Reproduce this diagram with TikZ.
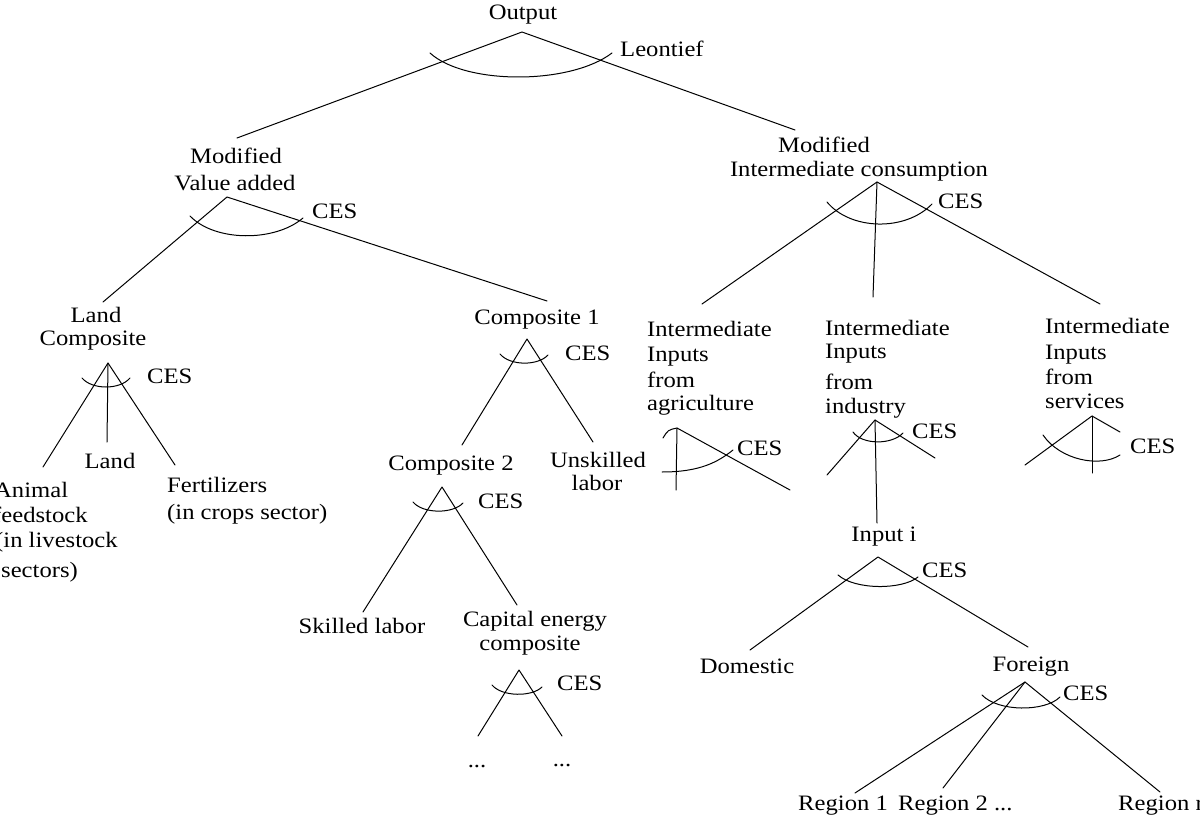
\documentclass[tikz,border=0pt]{standalone}
\usepackage{fontspec}
\setmainfont{Liberation Serif}[FakeStretch=1.12]
\begin{document}
\begin{tikzpicture}[x=1pt,y=-1pt,
  lbl/.style={inner sep=0pt,font=\fontsize{22}{25}\selectfont},
  lb/.style={lbl,anchor=base},
  lw/.style={lbl,anchor=base west},
  ln/.style={line width=1pt,line cap=round,line join=round}]
\useasboundingbox (0,0) rectangle (1200,816);
\fill[white] (0,0) rectangle (1200,816);

% ---------- Output ----------
\node[lb] (out) at (523,20) {Output};
\node[lw] (leon) at (620,57) {Leontief};
\coordinate (oA) at (522,32);
\coordinate (oL) at (237,138);
\coordinate (oR) at (795,130);
\draw[ln] (oL) -- (oA) -- (oR);
\coordinate (oa1) at (430,53);
\coordinate (oa2) at (612,53);
\draw[ln] (oa1) .. controls (465,85) and (570,85) .. (oa2);

% ---------- Modified Value added ----------
\node[lb] (vam) at (236,163) {Modified};
\node[lb] (vav) at (235,190) {Value added};
\node[lw] (vces) at (312,218) {CES};
\coordinate (vA) at (227,197);
\coordinate (vL) at (103,302);
\coordinate (vR) at (547,301);
\draw[ln] (vL) -- (vA) -- (vR);
\coordinate (va1) at (190,216);
\coordinate (va2) at (303,218);
\draw[ln] (va1) .. controls (215,242) and (275,242) .. (va2);

% ---------- Modified Intermediate consumption ----------
\node[lb] (icm) at (824,152) {Modified};
\node[lb] (ici) at (859,176) {Intermediate consumption};
\node[lw] (icces) at (938,208) {CES};
\coordinate (iA) at (877,182);
\coordinate (iL) at (702,304);
\coordinate (iV) at (873,297);
\coordinate (iR) at (1100,304);
\draw[ln] (iL) -- (iA) -- (iR);
\draw[ln] (iA) -- (iV);
\coordinate (ia1) at (827,202);
\coordinate (ia2) at (932,204);
\draw[ln] (ia1) .. controls (850,230) and (905,232) .. (ia2);

% ---------- Land Composite ----------
\node[lb] (lc1) at (96,322) {Land};
\node[lb] (lc2) at (93,345) {Composite};
\node[lw] (lces) at (147,383) {CES};
\coordinate (lA) at (108,363);
\coordinate (lL) at (43,467);
\coordinate (lV) at (107,442);
\coordinate (lR) at (175,465);
\draw[ln] (lL) -- (lA) -- (lR);
\draw[ln] (lA) -- (lV);
\coordinate (la1) at (82,378);
\coordinate (la2) at (130,378);
\draw[ln] (la1) .. controls (92,390) and (120,390) .. (la2);
\node[lb] (land) at (110,468) {Land};
\node[lw] (an1) at (-6,497) {Animal};
\node[lw] (an2) at (-7,522) {feedstock};
\node[lw] (an3) at (-5,547) {(in livestock};
\node[lw] (an4) at (1,577) {sectors)};
\node[lw] (fe1) at (167,492) {Fertilizers};
\node[lw] (fe2) at (167,519) {(in crops sector)};

% ---------- Composite 1 ----------
\node[lb] (c1) at (537,324) {Composite 1};
\node[lw] (c1ces) at (565,360) {CES};
\coordinate (c1A) at (527,339);
\coordinate (c1L) at (462,445);
\coordinate (c1R) at (593,442);
\draw[ln] (c1L) -- (c1A) -- (c1R);
\coordinate (c1a1) at (500,354);
\coordinate (c1a2) at (548,355);
\draw[ln] (c1a1) .. controls (510,366) and (538,366) .. (c1a2);
\node[lb] (un1) at (598,467) {Unskilled};
\node[lb] (un2) at (597,490) {labor};

% ---------- Composite 2 ----------
\node[lb] (c2) at (451,470) {Composite 2};
\node[lw] (c2ces) at (478,508) {CES};
\coordinate (c2A) at (442,487);
\coordinate (c2L) at (363,612);
\coordinate (c2R) at (517,605);
\draw[ln] (c2L) -- (c2A) -- (c2R);
\coordinate (c2a1) at (413,502);
\coordinate (c2a2) at (463,503);
\draw[ln] (c2a1) .. controls (423,514) and (453,514) .. (c2a2);
\node[lb] (sk) at (362,633) {Skilled labor};
\node[lb] (ce1) at (535,626) {Capital energy};
\node[lb] (ce2) at (530,650) {composite};

% ---------- Capital energy composite ----------
\node[lw] (cces) at (557,690) {CES};
\coordinate (ceA) at (519,670);
\coordinate (ceL) at (478,736);
\coordinate (ceR) at (562,736);
\draw[ln] (ceL) -- (ceA) -- (ceR);
\coordinate (cea1) at (492,685);
\coordinate (cea2) at (542,687);
\draw[ln] (cea1) .. controls (502,697) and (532,697) .. (cea2);
\node[lb] (d1) at (477,767) {...};
\node[lb] (d2) at (562,766) {...};

% ---------- Intermediate inputs from agriculture ----------
\node[lw] (ag1) at (647,336) {Intermediate};
\node[lw] (ag2) at (647,361) {Inputs};
\node[lw] (ag3) at (647,387) {from};
\node[lw] (ag4) at (647,410) {agriculture};
\node[lw] (agces) at (737,455) {CES};
\coordinate (aA) at (677,428);
\coordinate (aV) at (676,490);
\coordinate (aR) at (790,490);
\coordinate (aS) at (663,438);
\draw[ln] (aV) -- (aA) -- (aR);
\draw[ln] (aA) .. controls (668,430) .. (aS);
\coordinate (aa1) at (662,472);
\coordinate (aa2) at (733,450);
\draw[ln] (aa1) .. controls (700,472) and (718,462) .. (aa2);

% ---------- Intermediate inputs from industry ----------
\node[lw] (in1) at (825,335) {Intermediate};
\node[lw] (in2) at (825,358) {Inputs};
\node[lw] (in3) at (825,389) {from};
\node[lw] (in4) at (825,413) {industry};
\node[lw] (inces) at (912,438) {CES};
\coordinate (nA) at (875,420);
\coordinate (nL) at (827,475);
\coordinate (nR) at (935,458);
\coordinate (nV) at (877,523);
\draw[ln] (nL) -- (nA) -- (nR);
\draw[ln] (nA) -- (nV);
\coordinate (na1) at (853,432);
\coordinate (na2) at (903,433);
\draw[ln] (na1) .. controls (862,445) and (892,445) .. (na2);

% ---------- Intermediate inputs from services ----------
\node[lw] (se1) at (1045,333) {Intermediate};
\node[lw] (se2) at (1045,359) {Inputs};
\node[lw] (se3) at (1045,384) {from};
\node[lw] (se4) at (1045,408) {services};
\node[lw] (seces) at (1130,453) {CES};
\coordinate (sA) at (1092,416);
\coordinate (sV) at (1092,473);
\coordinate (sL) at (1025,465);
\coordinate (sR) at (1120,432);
\draw[ln] (sL) -- (sA) -- (sR);
\draw[ln] (sA) -- (sV);
\coordinate (sa1) at (1043,435);
\coordinate (sa2) at (1120,455);
\draw[ln] (sa1) .. controls (1060,460) and (1100,468) .. (sa2);

% ---------- Input i ----------
\node[lb] (inp) at (884,541) {Input i};
\node[lw] (pces) at (922,577) {CES};
\coordinate (pA) at (878,557);
\coordinate (pL) at (750,650);
\coordinate (pR) at (1028,647);
\draw[ln] (pL) -- (pA) -- (pR);
\coordinate (pa1) at (838,575);
\coordinate (pa2) at (918,577);
\draw[ln] (pa1) .. controls (855,590) and (902,590) .. (pa2);
\node[lb] (dom) at (747,673) {Domestic};
\node[lb] (for) at (1031,671) {Foreign};

% ---------- Foreign ----------
\node[lw] (fces) at (1063,700) {CES};
\coordinate (fA) at (1025,682);
\coordinate (f1) at (855,793);
\coordinate (f2) at (943,788);
\coordinate (f3) at (1160,792);
\draw[ln] (f1) -- (fA) -- (f3);
\draw[ln] (fA) -- (f2);
\coordinate (fa1) at (982,695);
\coordinate (fa2) at (1060,697);
\draw[ln] (fa1) .. controls (998,712) and (1045,712) .. (fa2);
\node[lw] (r1) at (798,810) {Region 1};
\node[lw] (r2) at (898,810) {Region 2 ...};
\node[lw] (rr) at (1118,810) {Region r};
\end{tikzpicture}
\end{document}
